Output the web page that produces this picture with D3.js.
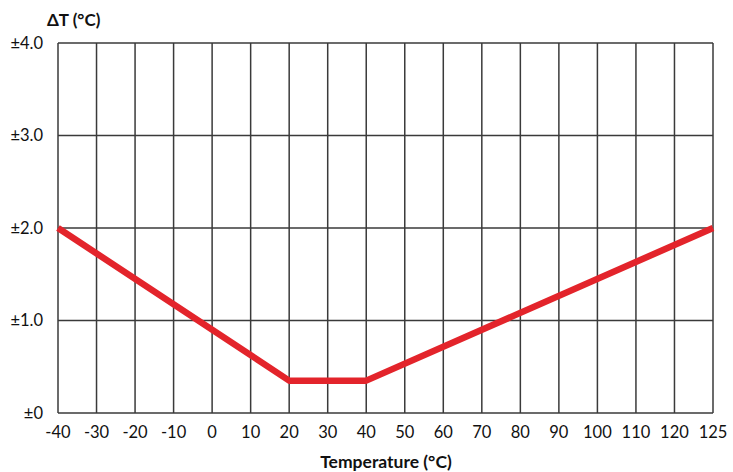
<!DOCTYPE html>
<html>
<head>
<meta charset="utf-8">
<script src="https://cdn.jsdelivr.net/npm/d3@7"></script>
<style>
  body { margin: 0; background: #fff; }
  text { font-family: Lato, "Open Sans", sans-serif; fill: #111; }
</style>
</head>
<body>
<script>
//tick labels along the temperature axis (evenly spaced columns)
var xLabels = ["-40", "-30", "-20", "-10", "0", "10", "20", "30", "40", "50", "60", "70", "80", "90", "100", "110", "120", "125"];
//y tick values and labels
var yTicks = [0, 1, 2, 3, 4];
var yLabels = ["±0", "±1.0", "±2.0", "±3.0", "±4.0"];
//accuracy curve (temperature, delta T)
var curveTemp = ["-40", "20", "40", "125"];
var curveDelta = [2.0, 0.35, 0.35, 2.0];

var width = 733, height = 472;
var plotLeft = 58, plotRight = 713, plotTop = 43, plotBottom = 413;

var svg = d3.select("body").append("svg")
    .attr("width", width)
    .attr("height", height);

var x = d3.scalePoint()
    .domain(xLabels)
    .range([plotLeft, plotRight]);

var y = d3.scaleLinear()
    .domain([0, 4])
    .range([plotBottom, plotTop]);

//vertical grid lines
svg.selectAll(".vgrid")
    .data(xLabels)
    .enter()
    .append("line")
    .attr("class", "vgrid")
    .attr("x1", function(d){ return x(d); })
    .attr("x2", function(d){ return x(d); })
    .attr("y1", plotTop)
    .attr("y2", plotBottom)
    .attr("stroke", "#3a3a3a")
    .attr("stroke-width", 1.5);

//horizontal grid lines
svg.selectAll(".hgrid")
    .data(yTicks)
    .enter()
    .append("line")
    .attr("class", "hgrid")
    .attr("x1", plotLeft)
    .attr("x2", plotRight)
    .attr("y1", function(d){ return y(d); })
    .attr("y2", function(d){ return y(d); })
    .attr("stroke", "#3a3a3a")
    .attr("stroke-width", 1.5);

//y labels
svg.selectAll(".ylab")
    .data(yTicks)
    .enter()
    .append("text")
    .attr("class", "ylab")
    .attr("x", 43)
    .attr("y", function(d){ return y(d); })
    .attr("dy", "0.35em")
    .attr("text-anchor", "end")
    .style("font-size", "16.5px")
    .text(function(d, i){ return yLabels[i]; });

//x labels
svg.selectAll(".xlab")
    .data(xLabels)
    .enter()
    .append("text")
    .attr("class", "xlab")
    .attr("x", function(d){ return x(d); })
    .attr("y", 438)
    .attr("text-anchor", "middle")
    .style("font-size", "16.5px")
    .text(function(d){ return d; });

//the curve
var line = d3.line()
    .x(function(d){ return x(d[0]); })
    .y(function(d){ return y(d[1]); });

svg.append("path")
    .datum(d3.zip(curveTemp, curveDelta))
    .attr("d", line)
    .attr("fill", "none")
    .attr("stroke", "#e3242b")
    .attr("stroke-width", 6.5)
    .attr("stroke-linejoin", "round");

//titles
svg.append("text")
    .attr("x", 47)
    .attr("y", 26)
    .style("font-size", "17px")
    .style("font-weight", "bold")
    .text("ΔT (°C)");

svg.append("text")
    .attr("x", 386)
    .attr("y", 468)
    .attr("text-anchor", "middle")
    .style("font-size", "17.5px")
    .style("font-weight", "bold")
    .text("Temperature (°C)");
</script>
</body>
</html>
